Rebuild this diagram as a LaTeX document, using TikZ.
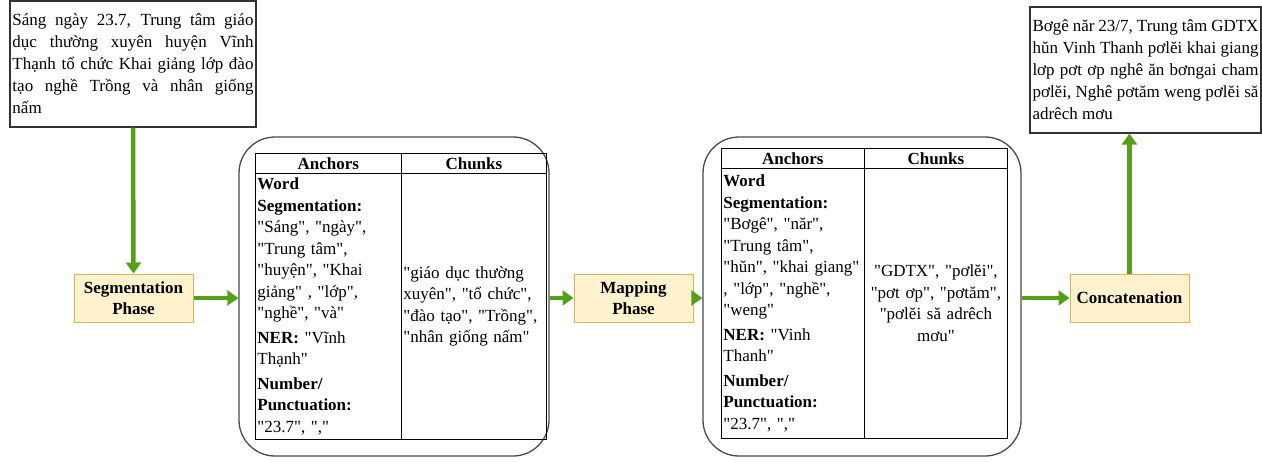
\documentclass[tikz,border=0pt]{standalone}
\usepackage{fontspec}
\setmainfont{Liberation Serif}[Ligatures=TeXOff]
\usepackage{xcolor}
\usetikzlibrary{arrows.meta,positioning,calc}
\definecolor{phaseFill}{HTML}{FFF2CC}
\definecolor{phaseLine}{HTML}{D6B656}
\definecolor{flowGreen}{HTML}{55A019}
\definecolor{frameGray}{HTML}{4A4A4A}
\newcommand{\tabfont}{\fontsize{17}{21.5}\selectfont}

\begin{document}
\begin{tikzpicture}[x=1pt,y=-1pt,
  txtbox/.style={draw=black!80, line width=1.1pt, align=justify, inner sep=2.5pt,
    font=\fontsize{17}{22}\selectfont},
  phase/.style={draw=phaseLine, fill=phaseFill, line width=1pt, minimum width=119pt,
    minimum height=48pt, align=center, font=\fontsize{17}{21}\selectfont\bfseries},
  frame/.style={draw=frameGray, line width=1.3pt, rounded corners=36pt},
  cell/.style={draw, line width=0.8pt, anchor=north west, inner sep=2pt, font=\tabfont},
  head/.style={cell, minimum height=20pt, font=\tabfont\bfseries},
  flow/.style={draw=flowGreen, line width=4.5pt, -{Triangle[length=11pt,width=15pt]}}]
\useasboundingbox (0,0) rectangle (1262,461);

% input and output sentences
\node[txtbox, minimum width=246pt, minimum height=126pt, text width=241pt] (src) at (133,64)
  {Sáng ngày 23.7, Trung tâm giáo\linebreak dục thường xuyên huyện Vĩnh\linebreak Thạnh tổ chức Khai giảng lớp đào\linebreak tạo nghề Trồng và nhân giống\linebreak nấm};
\node[txtbox, minimum width=231pt, minimum height=126pt, text width=226pt] (tgt) at (1145.5,70)
  {Bơgê năr 23/7, Trung tâm GDTX\linebreak hŭn Vinh Thanh pơlĕi khai giang\linebreak lơp pơt ơp nghê ăn bơngai cham\linebreak pơlĕi, Nghê pơtăm weng pơlĕi să\linebreak adrêch mơu};

% phases
\node[phase] (seg) at (133.5,298) {Segmentation\\Phase};
\node[phase] (map) at (633.5,298) {Mapping\\Phase};
\node[phase] (cat) at (1129.5,298) {Concatenation};

% rounded frames
\node[frame, minimum width=310pt, minimum height=319pt] (fr1) at (394,296.5) {};
\node[frame, minimum width=318pt, minimum height=319pt] (fr2) at (862,296.5) {};

% table 1
\node[head, minimum width=146pt] (hA1) at (255,153) {Anchors};
\node[head, minimum width=145pt] (hC1) at (401,153) {Chunks};
\node[cell, minimum width=146pt, minimum height=266pt, text width=142pt, align=left] (bA1) at (255,173)
  {\textbf{Word}\\\textbf{Segmentation:}\\"Sáng", "ngày",\\"Trung tâm",\\"huyện", "Khai\\giảng" , "lớp",\\"nghề", "và"\\[3pt]
   \textbf{NER:} "Vĩnh\\Thạnh"\\[3pt]\textbf{Number/}\\\textbf{Punctuation:}\\"23.7", ","};
\node[cell, minimum width=145pt, minimum height=266pt, text width=141pt, align=left] (bC1) at (401,173)
  {"giáo dục thường\\xuyên", "tổ chức",\\"đào tạo", "Trồng",\\"nhân giống nấm"};

% table 2
\node[head, minimum width=143pt] (hA2) at (721,148) {Anchors};
\node[head, minimum width=143pt] (hC2) at (864,148) {Chunks};
\node[cell, minimum width=143pt, minimum height=270pt, text width=139pt, align=left] (bA2) at (721,168)
  {\textbf{Word}\\\textbf{Segmentation:}\\"Bơgê", "năr",\\"Trung tâm",\\"hŭn", "khai giang"\\, "lớp", "nghề",\\"weng"\\[3pt]
   \textbf{NER:} "Vinh\\Thanh"\\[3pt]\textbf{Number/}\\\textbf{Punctuation:}\\"23.7", ","};
\node[cell, minimum width=143pt, minimum height=270pt, text width=139pt, align=center] (bC2) at (864,168)
  {"GDTX", "pơlĕi",\\"pơt ơp", "pơtăm",\\"pơlĕi să adrêch\\mơu"};

% arrows
\draw[flow] (src.south) -- (seg.north);
\draw[flow] (seg.east) -- (seg.east -| fr1.west);
\draw[flow] (map.west -| fr1.east) -- (map.west);
\draw[flow] (map.east) -- (map.east -| fr2.west);
\draw[flow] (cat.west -| fr2.east) -- (cat.west);
\draw[flow] (cat.north) -- (cat.north |- tgt.south);
\end{tikzpicture}
\end{document}
